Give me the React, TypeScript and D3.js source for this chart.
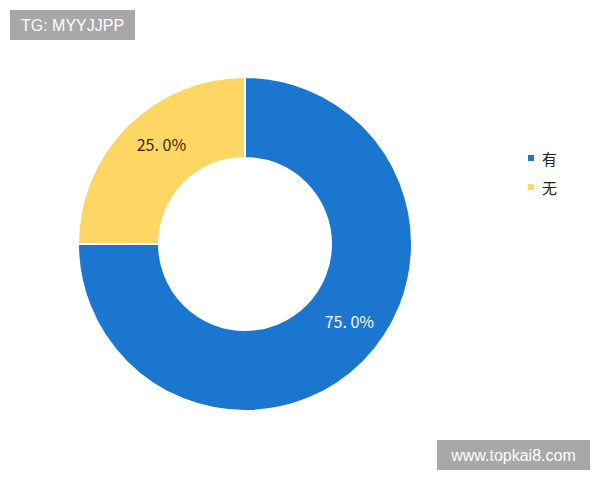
import React from "react";
import * as d3 from "d3";

const categories = ["有", "无"];
const values = [75, 25];
const colors = ["#1b76d0", "#fdd663"];
const labelColors = ["#f4f8ff", "#3a2a10"];

export default function App() {
  const W = 600, H = 480;
  const cx = 245, cy = 244, outerR = 167, innerR = 86;
  const pie = d3.pie<number>().sort(null).startAngle(0).endAngle(2 * Math.PI);
  const arcs = pie(values);
  const arc = d3.arc<d3.PieArcDatum<number>>().innerRadius(innerR).outerRadius(outerR);
  const labelArc = d3.arc<d3.PieArcDatum<number>>().innerRadius(130).outerRadius(130);
  const total = d3.sum(values);
  const labelShift = [-0.147, 0.087];
  return (
    <svg width={W} height={H} style={{ position: "absolute", left: 0, top: 0, background: "#fff" }}>
      <g transform={`translate(${cx},${cy})`}>
        {arcs.map((a, i) => (
          <path key={i} d={arc(a) || ""} fill={colors[i]} stroke="#fff" strokeWidth={2} />
        ))}
        {arcs.map((a, i) => {
          const mid = (a.startAngle + a.endAngle) / 2 + labelShift[i];
          const [x, y] = labelArc.centroid({ ...a, startAngle: mid, endAngle: mid });
          return (
            <text key={"l" + i} x={x} y={y} textAnchor="middle" dominantBaseline="central"
              fontFamily="'Noto Sans CJK SC', 'DejaVu Sans', sans-serif" fontSize={16}
              fill={labelColors[i]}>
              {((values[i] / total) * 100).toFixed(1).replace(".", ". ")}%
            </text>
          );
        })}
      </g>
      {categories.map((c, i) => (
        <g key={"lg" + i} transform={`translate(528,${158 + i * 29})`}>
          <rect x={0} y={-3} width={6} height={6} fill={colors[i]} />
          <text x={14} y={0} dominantBaseline="central" fontSize={15}
            fontFamily="'Noto Sans CJK SC', serif" fill="#222">{c}</text>
        </g>
      ))}
      <rect x={10} y={10} width={125} height={30} fill="#a8a8a8" />
      <text x={72.5} y={25} textAnchor="middle" dominantBaseline="central" fill="#fff"
        fontFamily="'Liberation Sans', Arial, sans-serif" fontSize={16}>TG: MYYJJPP</text>
      <rect x={437} y={440} width={153} height={30} fill="#a8a8a8" />
      <text x={513.5} y={455} textAnchor="middle" dominantBaseline="central" fill="#fff"
        fontFamily="'Liberation Sans', Arial, sans-serif" fontSize={16}>www.topkai8.com</text>
    </svg>
  );
}
